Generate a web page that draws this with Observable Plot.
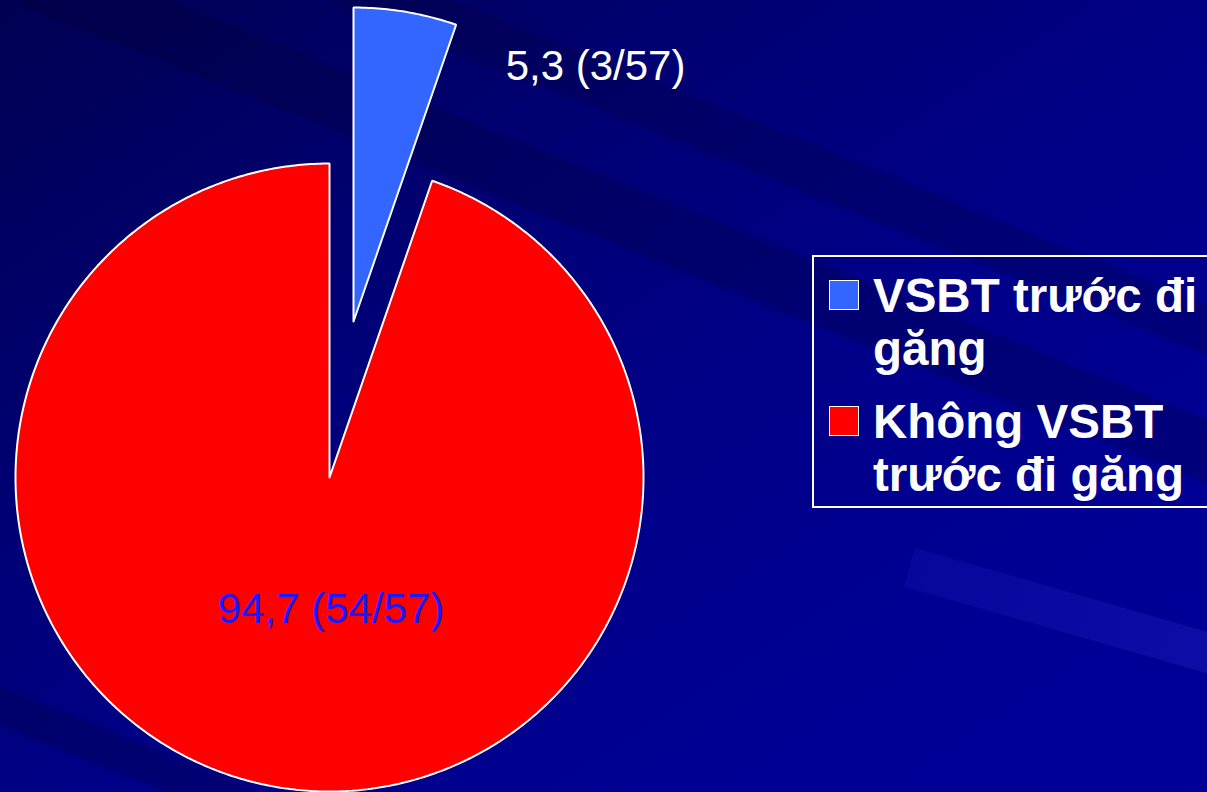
<!DOCTYPE html>
<html>
<head>
<meta charset="utf-8">
<script src="https://cdn.jsdelivr.net/npm/d3@7"></script>
<script src="https://cdn.jsdelivr.net/npm/@observablehq/plot@0.6"></script>
<style>
  html, body { margin: 0; padding: 0; width: 1207px; height: 792px; overflow: hidden; background: #000080; }
  #wrap {
    position: relative; width: 1207px; height: 792px; overflow: hidden;
    font-family: "Liberation Sans", Arial, sans-serif;
    background:
      linear-gradient(22deg,
        rgba(0,0,0,0) 0%, rgba(0,0,0,0) 5%, rgba(0,0,50,0.25) 5.5%, rgba(0,0,50,0.25) 8%, rgba(0,0,0,0) 8.5%,
        rgba(0,0,0,0) 62%, rgba(0,0,40,0.22) 62.5%, rgba(0,0,40,0.22) 67%, rgba(0,0,0,0) 67.5%,
        rgba(0,0,0,0) 72%, rgba(0,0,40,0.2) 72.5%, rgba(0,0,40,0.2) 76%, rgba(0,0,0,0) 76.5%),
      linear-gradient(to right, rgba(0,0,0,0) 75%, rgba(30,30,190,0.0) 75.5%, rgba(30,30,190,0.0) 100%),
      linear-gradient(to bottom right, #000052 0%, #000072 30%, #000088 55%, #000094 80%, #00009a 100%);
  }
  #streak {
    position: absolute; left: 915px; top: 548px; width: 420px; height: 40px;
    background: linear-gradient(to right, rgba(40,40,200,0.18), rgba(50,50,210,0.3));
    transform-origin: 0 0; transform: rotate(16deg);
  }
  #chart { position: absolute; left: 0; top: 0; }
  #legendBox {
    position: absolute; left: 812px; top: 255px; width: 430px; height: 249px;
    border: 2px solid #ffffff; box-sizing: content-box;
  }
  .item { position: absolute; left: 873px; width: 345px; color: #fff; font-weight: bold; font-size: 47.5px; line-height: 53px; }
  .sw { position: absolute; left: 829px; width: 28px; height: 28px; border: 1px solid #fff; }
</style>
</head>
<body>
<div id="wrap"><div id="streak"></div><div id="chart"></div><div id="legendBox"></div></div>
<script>
// ---- data ----
const categories = ["VSBT trước đi găng", "Không VSBT trước đi găng"];
const percents = [5.3, 94.7];
const percentText = ["5,3", "94,7"];
const fractions = ["3/57", "54/57"];
const colors = ["#3366ff", "#ff0000"];

// ---- layout ----
const W = 1207, H = 792, cx = 329, cy = 477, R = 314;
const explode = [{dx: 24 / R, dy: 156 / R}, {dx: 0, dy: 0}];

const arcs = d3.pie().sort(null).value(d => d)(percents);
const points = [];
const labels = [];
arcs.forEach((a, i) => {
  const mid = (a.startAngle + a.endAngle) / 2;
  const ox = explode[i].dx, oy = explode[i].dy;
  const cat = categories[i];
  points.push({cat, x: ox, y: oy});
  const n = Math.max(8, Math.ceil((a.endAngle - a.startAngle) / 0.01));
  for (let k = 0; k <= n; k++) {
    const t = a.startAngle + (a.endAngle - a.startAngle) * k / n;
    points.push({cat, x: ox + Math.sin(t), y: oy + Math.cos(t)});
  }
  points.push({cat, x: ox, y: oy});
  const lr = i === 0 ? 1 : 0.43;
  labels.push({i, text: `${percentText[i]} (${fractions[i]})`, x: ox + lr * Math.sin(mid), y: oy + lr * Math.cos(mid)});
});

const chart = Plot.plot({
  width: W, height: H,
  margin: 0, marginTop: 0, marginRight: 0, marginBottom: 0, marginLeft: 0,
  style: {background: "transparent", fontFamily: "'Liberation Sans', Arial, sans-serif"},
  x: {domain: [-cx / R, (W - cx) / R], axis: null},
  y: {domain: [-(H - cy) / R, cy / R], axis: null},
  color: {type: "ordinal", domain: categories, range: colors},
  marks: [
    Plot.line(points, {x: "x", y: "y", z: "cat", fill: "cat", stroke: "white", strokeWidth: 2, curve: "linear", strokeLinejoin: "miter"}),
    Plot.text(labels.filter(d => d.i === 0), {x: "x", y: "y", text: "text", fill: "white", fontSize: 42, dx: 190, dy: 55, textAnchor: "middle", lineAnchor: "middle"}),
    Plot.text(labels.filter(d => d.i === 1), {x: "x", y: "y", text: "text", fill: "#1a1aff", fontSize: 42, dx: 24, dy: -1, textAnchor: "middle", lineAnchor: "middle"})
  ]
});
document.getElementById("chart").appendChild(chart);

// ---- legend ----
const wrap = document.getElementById("wrap");
const tops = [269, 395];
categories.forEach((c, i) => {
  const sw = document.createElement("div");
  sw.className = "sw";
  sw.style.top = (tops[i] + 11) + "px";
  sw.style.background = colors[i];
  wrap.appendChild(sw);
  const t = document.createElement("div");
  t.className = "item";
  t.style.top = tops[i] + "px";
  t.textContent = c;
  wrap.appendChild(t);
});
</script>
</body>
</html>
